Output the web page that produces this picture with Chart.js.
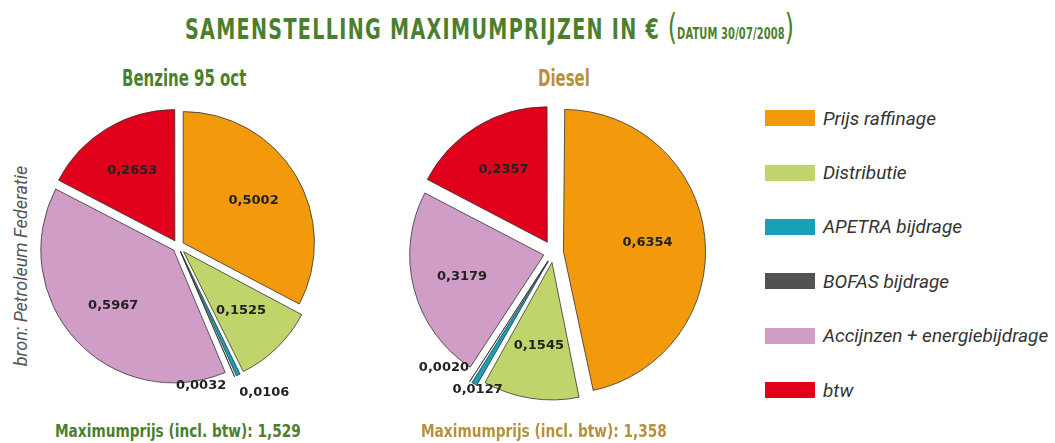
<!DOCTYPE html>
<html>
<head>
<meta charset="utf-8">
<script src="https://cdn.jsdelivr.net/npm/chart.js@4/dist/chart.umd.min.js"></script>
<style>
  body { margin: 0; width: 1055px; height: 443px; background: #fff; position: relative; overflow: hidden; font-family: "DejaVu Sans", sans-serif; }
  .abs { position: absolute; white-space: nowrap; }
  .narrow { transform-origin: 0 50%; }
  #title { left: 185px; top: 9px; line-height: 40px; font-size: 29px; font-weight: bold; color: #4b7f2e; letter-spacing: 2px; transform: scaleX(0.66); }
  #title small { font-size: 15px; letter-spacing: 0.2px; line-height: 0; }
  #title .par { font-size: 36px; font-weight: normal; line-height: 0; letter-spacing: 0; }
  .sub { font-size: 23px; font-weight: bold; top: 65px; transform: scaleX(0.65); }
  .green { color: #4b7f2e; }
  .gold { color: #b8903a; }
  .bottom { font-size: 18.5px; font-weight: bold; top: 420px; transform: scaleX(0.74); }
  #bron { left: 20px; top: 266px; transform: translate(-50%, -50%) rotate(-90deg); font-family: Roboto, sans-serif; font-style: italic; font-size: 18px; color: #555; }
  #legend { left: 765px; top: 100px; }
  .item { display: flex; align-items: center; height: 54.4px; font-family: Roboto, sans-serif; font-style: italic; font-size: 19px; color: #333; }
  .sw { width: 50px; height: 16px; margin-right: 8px; margin-top: -18px; }
  .item span { margin-top: -18px; }
</style>
</head>
<body>
<div id="title" class="abs narrow">SAMENSTELLING MAXIMUMPRIJZEN IN €<span class="par"> (</span><small>DATUM 30/07/2008</small><span class="par">)</span></div>
<div class="abs sub green narrow" style="left:122px">Benzine 95 oct</div>
<div class="abs sub gold narrow" style="left:538px">Diesel</div>
<div id="bron" class="abs">bron: Petroleum Federatie</div>
<div class="abs" style="left:31px; top:99px; width:294px; height:314px"><canvas id="benzine"></canvas></div>
<div class="abs" style="left:395px; top:94px; width:317px; height:337px"><canvas id="diesel"></canvas></div>
<div id="legend" class="abs"></div>
<div class="abs bottom green narrow" style="left:55px">Maximumprijs (incl. btw): 1,529</div>
<div class="abs bottom gold narrow" style="left:421px">Maximumprijs (incl. btw): 1,358</div>
<script>
const labels = ["Prijs raffinage", "Distributie", "APETRA bijdrage", "BOFAS bijdrage", "Accijnzen + energiebijdrage", "btw"];
const benzineValues = [0.5002, 0.1525, 0.0106, 0.0032, 0.5967, 0.2653];
const dieselValues = [0.6354, 0.1545, 0.0127, 0.0020, 0.3179, 0.2357];
const colors = ["#f29a0c", "#bfd46a", "#17a0b6", "#525252", "#d09dc7", "#e1001b"];

// legend
const legend = document.querySelector("#legend");
labels.forEach((label, i) => {
  const item = document.createElement("div");
  item.className = "item";
  item.innerHTML = '<div class="sw" style="background:' + colors[i] + '"></div><span>' + label + "</span>";
  legend.appendChild(item);
});

function fmt(v) {
  return v.toFixed(4).replace(".", ",");
}

// draws the value inside each slice, small slices get their label outside
const sliceLabels = {
  id: "sliceLabels",
  afterDatasetsDraw(chart) {
    const ctx = chart.ctx;
    const meta = chart.getDatasetMeta(0);
    const values = chart.data.datasets[0].data;
    ctx.save();
    ctx.font = "bold 13px 'DejaVu Sans', sans-serif";
    ctx.fillStyle = "#222";
    ctx.textBaseline = "middle";
    meta.data.forEach((arc, i) => {
      const { x, y, startAngle, endAngle, outerRadius } = arc.getProps(["x", "y", "startAngle", "endAngle", "outerRadius"], true);
      const mid = (startAngle + endAngle) / 2;
      const shift = (arc.options.offset || 0) / 4;
      const dx = Math.cos(mid), dy = Math.sin(mid);
      if (values[i] > 0.05) {
        const r = outerRadius * 0.63 + shift;
        ctx.textAlign = "center";
        ctx.fillText(fmt(values[i]), x + dx * r, y + dy * r);
      } else {
        const tx = x + dx * (outerRadius + shift);
        const ty = y + dy * (outerRadius + shift);
        if (i === 3) {
          ctx.textAlign = "right";
          ctx.fillText(fmt(values[i]), tx - 6, ty + 6 + 22 * dx);
        } else {
          ctx.textAlign = "center";
          ctx.fillText(fmt(values[i]), tx + 15 + 32 * dx, ty + 19 + 10 * dx);
        }
      }
    });
    ctx.restore();
  }
};

function makePie(canvas, values, offsets) {
  return new Chart(canvas.getContext("2d"), {
    type: "pie",
    data: {
      labels: labels,
      datasets: [{
        data: values,
        backgroundColor: colors,
        borderColor: "#333",
        borderWidth: 0.8,
        offset: offsets,
      }],
    },
    options: {
      responsive: true,
      maintainAspectRatio: false,
      animation: false,
      events: [],
      layout: { padding: { bottom: 20 } },
      plugins: { legend: { display: false }, tooltip: { enabled: false } },
    },
    plugins: [sliceLabels],
  });
}

makePie(document.querySelector("#benzine"), benzineValues, [24, 32, 24, 24, 24, 24]);
makePie(document.querySelector("#diesel"), dieselValues, [40, 40, 40, 40, 40, 48]);
</script>
</body>
</html>
